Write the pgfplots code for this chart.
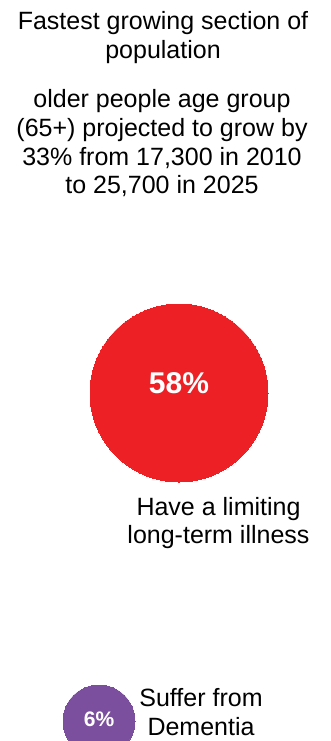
\documentclass[border=0pt]{standalone}
\usepackage{pgfplots}
\pgfplotsset{compat=1.18}
\usepackage{fontspec}
\setmainfont{Liberation Sans}
\definecolor{redc}{HTML}{ED2026}
\definecolor{purc}{HTML}{7B4F9E}
\begin{document}
\begin{tikzpicture}
\begin{axis}[name=ax, scale only axis, width=331bp, height=741bp,
  xmin=0, xmax=331, ymin=0, ymax=741, y dir=reverse, hide axis,
  clip=true, clip marker paths=true,
  /pgf/number format/assume math mode=true,
  every node near coord/.append style={anchor=base, text=white, inner sep=0pt}]
% red circle: limiting long-term illness
\addplot[redc, only marks, mark=*, mark size=89bp, mark options={draw=redc, fill=redc, line width=0pt},
  point meta=explicit,
  nodes near coords={\fontsize{30bp}{30bp}\selectfont\bfseries\pgfmathprintnumber{\pgfplotspointmeta}\%}]
  coordinates {(179,393) [58]};
% purple circle: dementia
\addplot[purc, only marks, mark=*, mark size=36bp, mark options={draw=purc, fill=purc, line width=0pt},
  point meta=explicit,
  nodes near coords={\fontsize{21bp}{21bp}\selectfont\bfseries\pgfmathprintnumber{\pgfplotspointmeta}\%},
  every node near coord/.append style={yshift=-5bp}]
  coordinates {(99,721) [6]};
\tikzset{txt/.style={anchor=base, inner sep=0pt, text=black, font=\fontsize{25bp}{29bp}\selectfont}}
\node[txt] at (axis cs:163,30) {Fastest growing section of};
\node[txt] at (axis cs:163,59) {population};
\node[txt] at (axis cs:162,108) {older people age group};
\node[txt] at (axis cs:162,137) {(65+) projected to grow by};
\node[txt] at (axis cs:162,166) {33\% from 17,300 in 2010};
\node[txt] at (axis cs:162,194) {to 25,700 in 2025};
\node[txt] at (axis cs:218.5,515) {Have a limiting};
\node[txt] at (axis cs:218.5,543) {long-term illness};
\node[txt] at (axis cs:201,706) {Suffer from};
\node[txt] at (axis cs:201,735) {Dementia};
\end{axis}
\pgfresetboundingbox
\path[use as bounding box] (ax.south west) rectangle (ax.north east);
\end{tikzpicture}
\end{document}
